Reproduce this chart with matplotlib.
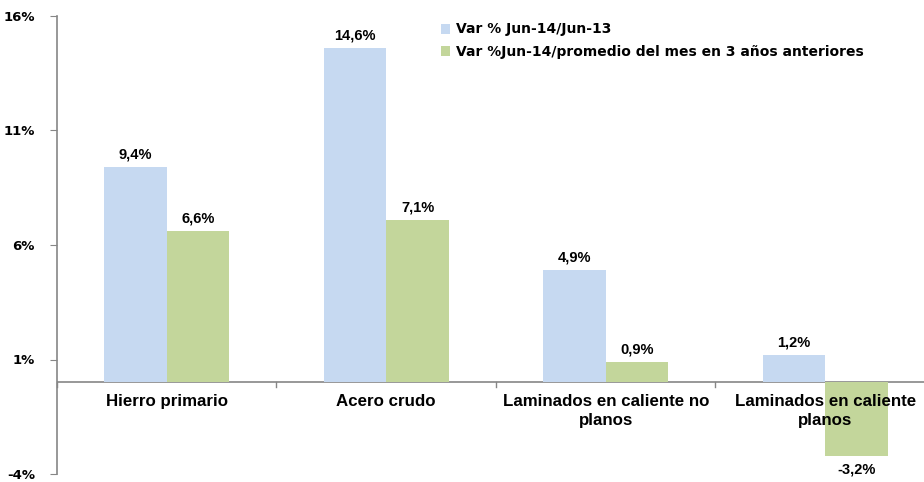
import matplotlib.pyplot as plt
import numpy as np
from matplotlib.patches import Patch

categorias = ['Hierro primario', 'Acero crudo',
              'Laminados en caliente no\nplanos', 'Laminados en caliente\nplanos']
var_anual = [9.4, 14.6, 4.9, 1.2]
var_promedio = [6.6, 7.1, 0.9, -3.2]
etiquetas_anual = ['9,4%', '14,6%', '4,9%', '1,2%']
etiquetas_promedio = ['6,6%', '7,1%', '0,9%', '-3,2%']
serie_nombres = ['Var % Jun-14/Jun-13',
                 'Var %Jun-14/promedio del mes en 3 años anteriores']
y_ticks = [16, 11, 6, 1, -4]

azul = '#C6D9F1'
verde = '#C3D69B'
gris = '#868686'

fig = plt.figure(figsize=(9.24, 4.82), dpi=100)
W, H = 924, 482
ax = fig.add_axes([57 / W, 1 - 474 / H, (924 - 57) / W, (474 - 16) / H])

x = np.arange(len(categorias))
ancho = 0.285
ax.bar(x - ancho / 2, var_anual, ancho, color=azul, zorder=2)
ax.bar(x + ancho / 2, var_promedio, ancho, color=verde, zorder=2)

ax.set_xlim(-0.5, 3.45)
ax.set_ylim(-4, 16)

# etiquetas de valores
for xi, v, t in zip(x, var_anual, etiquetas_anual):
    ax.annotate(t, (xi - ancho / 2, v), xytext=(0, 4), textcoords='offset points',
                ha='center', va='bottom', fontsize=10.5, fontweight='bold',
                family='Liberation Sans')
for xi, v, t in zip(x, var_promedio, etiquetas_promedio):
    off = 4 if v >= 0 else -5
    ax.annotate(t, (xi + ancho / 2, v), xytext=(0, off), textcoords='offset points',
                ha='center', va='bottom' if v >= 0 else 'top', fontsize=10.5,
                fontweight='bold', family='Liberation Sans')

# eje horizontal en cero
ax.axhline(0, color=gris, linewidth=1.2, zorder=1)
for b in np.arange(-0.5, 3.5, 1.0):
    ax.plot([b, b], [0, -0.22], color=gris, linewidth=1, clip_on=False, zorder=1)

# nombres de categorías
for xi, c in zip(x, categorias):
    ax.text(xi, -0.5, c, ha='center', va='top', fontsize=12.2, fontweight='bold',
            family='Liberation Sans', linespacing=1.35)

ax.set_xticks([])
ax.set_yticks(y_ticks)
ax.set_yticklabels([f'{t}%' for t in y_ticks], fontsize=9.5, fontweight='bold',
                   family='DejaVu Sans')
ax.tick_params(axis='y', length=5, color=gris, pad=11)
for s in ['top', 'right', 'bottom']:
    ax.spines[s].set_visible(False)
ax.spines['left'].set_color(gris)
ax.spines['left'].set_linewidth(1.2)

handles = [Patch(facecolor=azul), Patch(facecolor=verde)]
leg = ax.legend(handles, serie_nombres, loc='upper left',
                bbox_to_anchor=(428 / W, 1 - 10 / H), bbox_transform=fig.transFigure,
                frameon=False, handlelength=0.7, handleheight=0.7,
                handletextpad=0.45, labelspacing=0.62,
                prop={'family': 'DejaVu Sans', 'weight': 'bold', 'size': 10})

fig.savefig('out.png', dpi=100)
